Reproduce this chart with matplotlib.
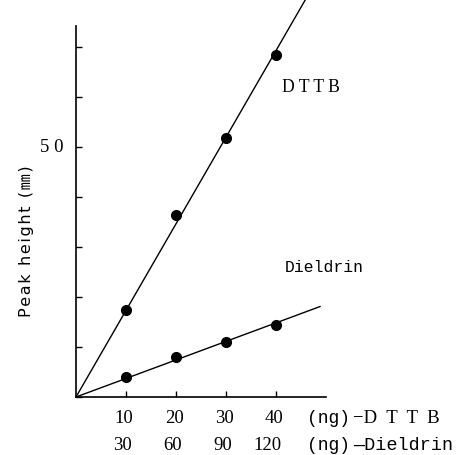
import numpy as np
import matplotlib
matplotlib.use("Agg")
import matplotlib.pyplot as plt

# data
dttb_ng = [10, 20, 30, 40]
dttb_peak = [17.4, 36.4, 51.8, 68.5]
dieldrin_ng = [30, 60, 90, 120]
dieldrin_peak = [4.1, 8.1, 11.1, 14.4]
x_ticks = [10, 20, 30, 40]
row1_labels = ["10", "20", "30", "40"]
row2_labels = ["30", "60", "90", "120"]
y_ticks = [0, 10, 20, 30, 40, 50, 60, 70]

W, H = 469, 456
fig = plt.figure(figsize=(W / 100, H / 100), dpi=100)
ox, oy = 76, 398  # origin in pixels
ppu = 5.0
ax = fig.add_axes([ox / W, (H - oy) / H, (W - ox) / W, oy / H])
ax.set_xlim(0, (W - ox) / ppu)
ax.set_ylim(0, oy / ppu)

# common x scale: DTTB ng; dieldrin plotted at ng/3
dx = np.array(dttb_ng, float)
dy = np.array(dttb_peak, float)
ex = np.array(dieldrin_ng, float) / 3.0
ey = np.array(dieldrin_peak, float)

s1 = np.sum(dx * dy) / np.sum(dx * dx)
s2 = np.sum(ex * ey) / np.sum(ex * ex)
xl1 = np.array([0, 46])
xl2 = np.array([0, 48.8])
ax.plot(xl1, s1 * xl1, color="black", lw=1.0)
ax.plot(xl2, s2 * xl2, color="black", lw=1.0)
ax.plot(dx, dy, "o", color="black", ms=7)
ax.plot(ex, ey, "o", color="black", ms=7)

for s in ["top", "right"]:
    ax.spines[s].set_visible(False)
ax.spines["left"].set_bounds(0, 74.2)
ax.spines["bottom"].set_bounds(0, 50)
for s in ["left", "bottom"]:
    ax.spines[s].set_linewidth(1.2)

ax.set_yticks(y_ticks)
ax.set_yticklabels([""] * len(y_ticks))
ax.set_xticks(x_ticks)
ax.set_xticklabels([""] * len(x_ticks))
ax.tick_params(direction="in", length=4, width=1)

serif = "Liberation Serif"
mono = "Liberation Mono"
for x, a in zip(x_ticks, row1_labels):
    ax.text(x - 0.4, -4.2, a, ha="center", va="center", fontsize=13.5, family=serif, clip_on=False)
for x, b in zip(x_ticks, row2_labels):
    ax.text(x + 1.2, -9.6, b, ha="right", va="center", fontsize=13.5, family=serif, clip_on=False)

ax.text(46.2, -4.2, "(ng)", ha="left", va="center", fontsize=13, family=[mono], clip_on=False)
ax.text(55.4, -4.2, "\u2212D  T  T  B", ha="left", va="center", fontsize=13.5, family=serif, clip_on=False)
ax.text(46.2, -9.6, "(ng)", ha="left", va="center", fontsize=13, family=[mono], clip_on=False)
ax.text(55.4, -9.6, "\u2014Dieldrin", ha="left", va="center", fontsize=13.3, family=[mono], clip_on=False)

ax.text(-2.6, 50, "5 0", ha="right", va="center", fontsize=13.5, family=serif, clip_on=False)
ax.text(41.2, 62.0, "D T T B", ha="left", va="center", fontsize=12.7, family=serif)
ax.text(41.8, 26.0, "Dieldrin", ha="left", va="center", fontsize=11.8, family=[mono])

hs = "\u200a"
label = hs.join("Peak height (\u339c)")
fig.text(27 / W, 1 - 241 / H, label, rotation=90, ha="center", va="center",
         fontsize=11.5, family=["DejaVu Sans", "Noto Sans CJK JP"])

fig.savefig("out.png", dpi=100)
